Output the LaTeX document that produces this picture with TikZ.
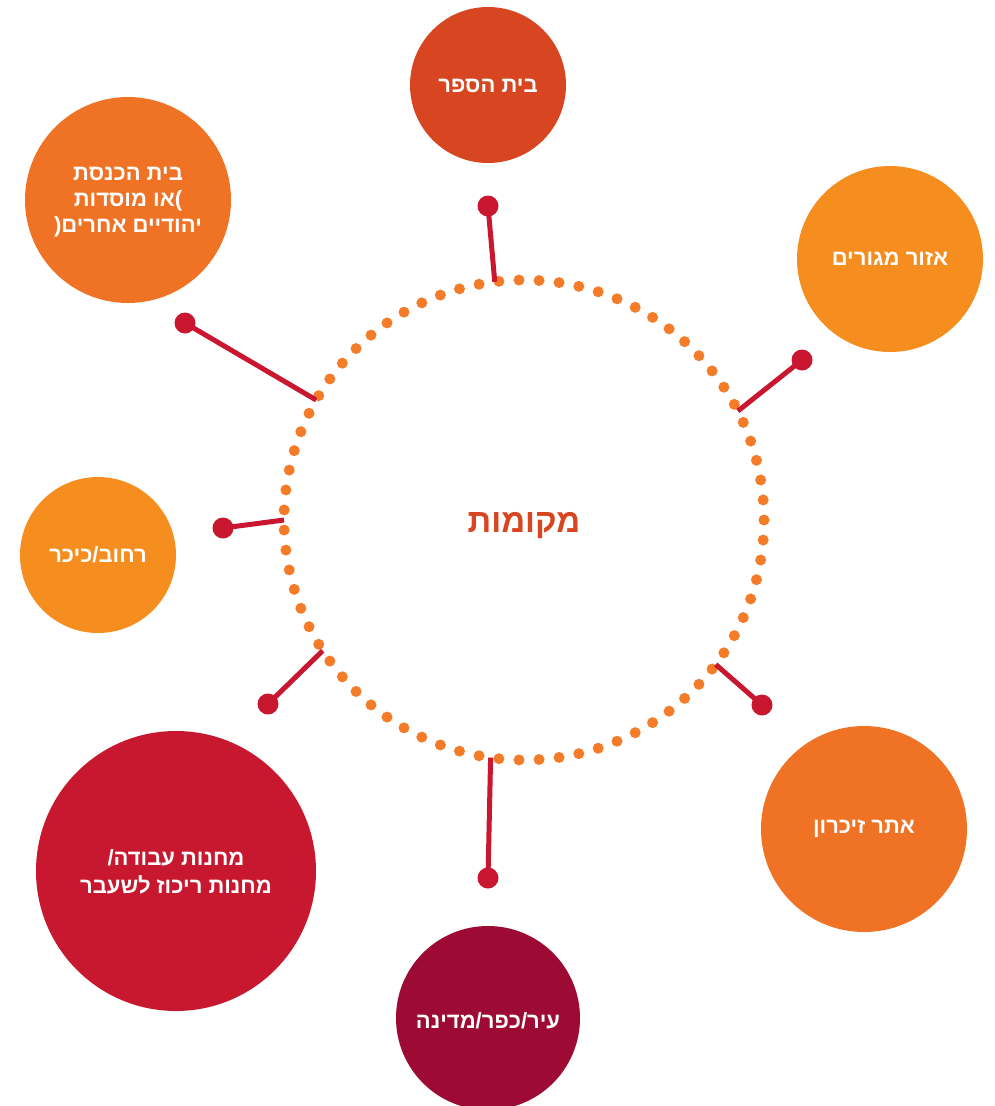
\documentclass[tikz,border=0pt]{standalone}
\usepackage{fontspec}
\TeXXeTstate=1
\newfontfamily\heb[Script=Hebrew]{Liberation Sans}
\definecolor{cSchool}{HTML}{D74521}
\definecolor{cOrangeL}{HTML}{F58E1F}
\definecolor{cOrange}{HTML}{F07325}
\definecolor{cCrimson}{HTML}{C8182F}
\definecolor{cWine}{HTML}{9D0B34}
\definecolor{cDots}{HTML}{F47B28}
\definecolor{cConn}{HTML}{C8172F}
\begin{document}
\begin{tikzpicture}[x=1pt,y=-1pt,
  bubble/.style={circle, inner sep=0pt, outer sep=0pt},
  lab/.style={text=white, align=center, inner sep=0pt,
    font=\heb\bfseries\fontsize{22}{26}\selectfont},
  hubnode/.style={circle, inner sep=0pt, outer sep=0pt, minimum size=480pt},
  hublab/.style={text=cSchool, inner sep=0pt, font=\heb\bfseries\fontsize{33}{38}\selectfont},
  ringdot/.style={fill=cDots},
  pindot/.style={circle, fill=cConn, inner sep=0pt, outer sep=0pt, minimum size=21pt},
  connector/.style={draw=cConn, line width=5pt}]
\useasboundingbox (0,0) rectangle (995,1106);
% ring of dots
\foreach \i in {0,...,74}{
  \fill[ringdot] (524,520) ++(\i*4.8:240) circle (5.5);
}
\node[hubnode, label={[hublab, yshift=-6pt]center:{\beginR מקומות\endR}}] (hub) at (524,520) {};
% bubbles
\node[bubble, fill=cSchool, minimum size=156pt,
  label={[lab, yshift=-1pt]center:{\beginR בית הספר\endR}}] (school) at (488,85) {};
\node[bubble, fill=cOrangeL, minimum size=186pt,
  label={[lab]center:{\beginR אזור מגורים\endR}}] (home) at (890,259) {};
\node[bubble, fill=cOrange, minimum size=206pt,
  label={[lab, yshift=-2pt]center:{\beginR בית הכנסת\endR\\\beginR או מוסדות\endR)\\(\beginR יהודיים אחרים\endR}}] (syn) at (128,200) {};
\node[bubble, fill=cOrangeL, minimum size=156pt,
  label={[lab]center:{\beginR רחוב/כיכר\endR}}] (street) at (98,555) {};
\node[bubble, fill=cCrimson, minimum size=280pt,
  label={[lab, yshift=-1pt, font=\heb\bfseries\fontsize{22}{28}\selectfont]center:{\beginR מחנות עבודה/\endR\\\beginR מחנות ריכוז לשעבר\endR}}] (camps) at (176,871) {};
\node[bubble, fill=cWine, minimum size=184pt,
  label={[lab, yshift=-3pt]center:{\beginR עיר/כפר/מדינה\endR}}] (city) at (488,1018) {};
\node[bubble, fill=cOrange, minimum size=206pt,
  label={[lab]center:{\beginR אתר זיכרון\endR}}] (memo) at (864,829) {};
% pin dots
\node[pindot] (p1) at (488,206) {};
\node[pindot] (p2) at (802,360) {};
\node[pindot] (p3) at (185,323) {};
\node[pindot] (p4) at (223,528) {};
\node[pindot] (p5) at (268,704) {};
\node[pindot] (p6) at (488,878) {};
\node[pindot] (p7) at (762,705) {};
% connectors
\draw[connector] (p1.center) -- (hub.97.9);
\draw[connector] (p2.center) -- (hub.27.2);
\draw[connector] (p3.center) -- (hub.150.3);
\draw[connector] (p4.center) -- (hub.180.95);
\draw[connector] (p5.center) -- (hub.213.7);
\draw[connector] (p6.center) -- (hub.262.4);
\draw[connector] (p7.center) -- (hub.323.1);
\end{tikzpicture}
\end{document}
